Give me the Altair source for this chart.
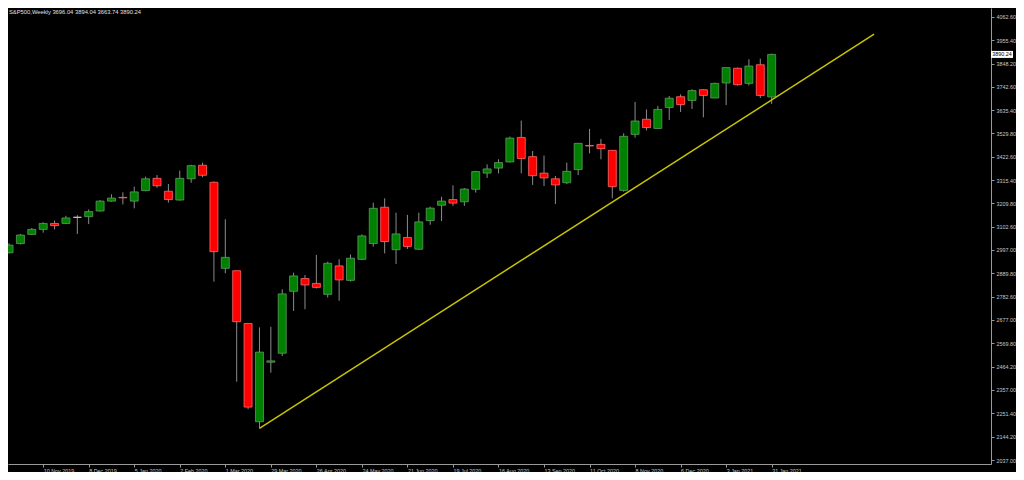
import json
import altair as alt
import pandas as pd

# Weekly S&P500 candles, first bar week of 20 Oct 2019, last bar 31 Jan 2021
first_week = "2019-10-20"
opens = [2984, 3026, 3068, 3091, 3118, 3118, 3146, 3149, 3175, 3220,
         3237, 3220, 3268, 3324, 3265, 3225, 3322, 3384, 3306, 2913,
         2902, 2661, 2212, 2484, 2525, 2808, 2866, 2844, 2794, 2924,
         2858, 2954, 3026, 3192, 2998, 3054, 3000, 3131, 3201, 3227,
         3217, 3274, 3348, 3371, 3399, 3511, 3423, 3348, 3322, 3304,
         3364, 3474, 3479, 3452, 3269, 3525, 3594, 3552, 3648, 3697,
         3680, 3729, 3691, 3760, 3827, 3758, 3843, 3696.04]
highs = [3027, 3070, 3097, 3123, 3131, 3153, 3156, 3182, 3225, 3251,
         3260, 3286, 3332, 3339, 3298, 3359, 3386, 3396, 3310, 3137,
         2902, 2662, 2643, 2646, 2817, 2893, 2882, 2974, 2943, 2954,
         2976, 3068, 3213, 3233, 3167, 3157, 3167, 3195, 3240, 3292,
         3280, 3358, 3388, 3411, 3515, 3588, 3449, 3428, 3335, 3396,
         3484, 3550, 3504, 3452, 3530, 3673, 3639, 3655, 3700, 3708,
         3731, 3731, 3761, 3830, 3830, 3868, 3871, 3894.04]
lows = [2981, 3022, 3065, 3076, 3091, 3115, 3070, 3115, 3172, 3217,
        3205, 3187, 3265, 3281, 3213, 3222, 3304, 3329, 2852, 2890,
        2395, 2269, 2182, 2436, 2512, 2718, 2726, 2821, 2779, 2765,
        2853, 2951, 3012, 2981, 2933, 3001, 2997, 3112, 3129, 3198,
        3198, 3259, 3326, 3347, 3396, 3347, 3294, 3289, 3207, 3298,
        3339, 3438, 3411, 3233, 3263, 3510, 3543, 3550, 3591, 3627,
        3641, 3603, 3691, 3659, 3748, 3748, 3691, 3663.74]
closes = [3019, 3065, 3091, 3118, 3108, 3143, 3146, 3172, 3220, 3234,
          3235, 3262, 3322, 3290, 3227, 3324, 3382, 3338, 2989, 2963,
          2669, 2279, 2530, 2490, 2796, 2878, 2837, 2826, 2936, 2860,
          2959, 3061, 3187, 3035, 3070, 3013, 3125, 3188, 3220, 3211,
          3275, 3355, 3367, 3396, 3508, 3415, 3336, 3326, 3294, 3356,
          3484, 3472, 3460, 3286, 3516, 3586, 3556, 3639, 3690, 3661,
          3725, 3703, 3758, 3830, 3752, 3837, 3703, 3890.24]

# Date axis: labelled every 4 weeks (bar index of each label)
date_label_idx = [3, 7, 11, 15, 19, 23, 27, 31, 35, 39, 43, 47, 51, 55, 59, 63, 67]
date_labels = ["10 Nov 2019", "8 Dec 2019", "5 Jan 2020", "2 Feb 2020", "1 Mar 2020",
               "29 Mar 2020", "26 Apr 2020", "24 May 2020", "21 Jun 2020", "19 Jul 2020",
               "16 Aug 2020", "13 Sep 2020", "11 Oct 2020", "8 Nov 2020", "6 Dec 2020",
               "3 Jan 2021", "31 Jan 2021"]

# Price axis labels
price_ticks = [2037.00, 2144.20, 2251.40, 2357.00, 2464.20, 2569.80, 2677.00, 2782.60,
               2889.80, 2997.00, 3102.60, 3209.80, 3315.40, 3422.60, 3529.80, 3635.40,
               3742.60, 3848.20, 3955.40, 4062.60]

# Support trendline (bar index, price)
trend_idx = [22, 76]
trend_price = [2182, 3982.6]

dates = pd.date_range(first_week, periods=len(opens), freq="7D")
df = pd.DataFrame({
    "i": list(range(len(opens))),
    "date": dates.strftime("%Y-%m-%d"),
    "open": opens, "high": highs, "low": lows, "close": closes,
})
df["dir"] = ["up" if c > o else ("down" if c < o else "flat") for o, c in zip(opens, closes)]

trend_df = pd.DataFrame({"i": trend_idx, "price": trend_price})
last = df.iloc[-1]
title_df = pd.DataFrame({"t": [f"S&P500,Weekly  {last.open:.2f} {last.high:.2f} {last.low:.2f} {last.close:.2f}"]})
tag_df = pd.DataFrame({"price": [last.close], "t": [f"{last.close:.2f}"]})

FONT = "Liberation Sans"
FS = 5.4
LABEL_COL = "#c8c8c8"
AXIS_COL = "#9a9a9a"

x_scale = alt.Scale(domain=[0.348, 85.83], nice=False, zero=False)
y_scale = alt.Scale(domain=[2018.85, 4102.35], nice=False, zero=False)

label_expr = json.dumps(date_labels) + "[(datum.value - 3) / 4]"

x_axis = alt.Axis(values=date_label_idx, labelExpr=label_expr, orient="bottom", title=None,
                  grid=False, labelAlign="left", labelBaseline="top", labelPadding=1,
                  labelFont=FONT, labelFontSize=FS, labelColor=LABEL_COL, labelOverlap=False,
                  labelFlush=False, tickColor=AXIS_COL, tickSize=3, domainColor=AXIS_COL,
                  domainWidth=1)
y_axis = alt.Axis(values=price_ticks, format=".2f", orient="right", title=None, grid=False,
                  labelAlign="left", labelPadding=2, labelFont=FONT, labelFontSize=FS,
                  labelColor=LABEL_COL, labelOverlap=False, labelFlush=False,
                  tickColor=AXIS_COL, tickSize=3, domainColor=AXIS_COL, domainWidth=1)


def X(field):
    return alt.X(field, scale=x_scale, axis=x_axis, title=None)


def Y(field):
    return alt.Y(field, scale=y_scale, axis=y_axis, title=None)


base = alt.Chart(df)

wicks = base.mark_rule(color="#8c8c8c", strokeWidth=1, clip=True).encode(
    x=X("i:Q"), y=Y("low:Q"), y2="high:Q",
)

bodies = base.mark_bar(width=8, strokeWidth=0.8, clip=True).encode(
    x=X("i:Q"), y=Y("open:Q"), y2="close:Q",
    fill=alt.Fill("dir:N", scale=alt.Scale(domain=["up", "down", "flat"],
                                           range=["#008000", "#ff0000", "#c8c8c8"]), legend=None),
    stroke=alt.Stroke("dir:N", scale=alt.Scale(domain=["up", "down", "flat"],
                                               range=["#5f9a5f", "#ff6a6a", "#d8d8d8"]), legend=None),
    tooltip=["date:N", "open:Q", "high:Q", "low:Q", "close:Q"],
)

trend = alt.Chart(trend_df).mark_line(color="#c8c400", strokeWidth=1.5, clip=True).encode(
    x=X("i:Q"), y=Y("price:Q"),
)

title = alt.Chart(title_df).mark_text(align="left", baseline="top", font=FONT, fontSize=5.8,
                                      color="#e0e0e0").encode(
    x=alt.value(1), y=alt.value(1), text="t:N")

tag_box = alt.Chart(tag_df).mark_tick(orient="horizontal", size=22, thickness=7,
                                      color="#ffffff", opacity=1).encode(
    x=alt.value(994), y=Y("price:Q"))
tag_text = alt.Chart(tag_df).mark_text(align="center", baseline="middle", font=FONT,
                                       fontSize=FS, color="#000000").encode(
    x=alt.value(994), y=Y("price:Q"), text="t:N")

chart = alt.layer(wicks, bodies, trend, title, tag_box, tag_text).properties(
    width=983, height=456,
    autosize=alt.AutoSizeParams(type="none"),
    padding={"left": 0, "top": 0, "right": 25, "bottom": 8},
    background="#000000",
).configure_view(stroke=None)

chart.save("out.html", embed_options={"renderer": "svg", "actions": False})
